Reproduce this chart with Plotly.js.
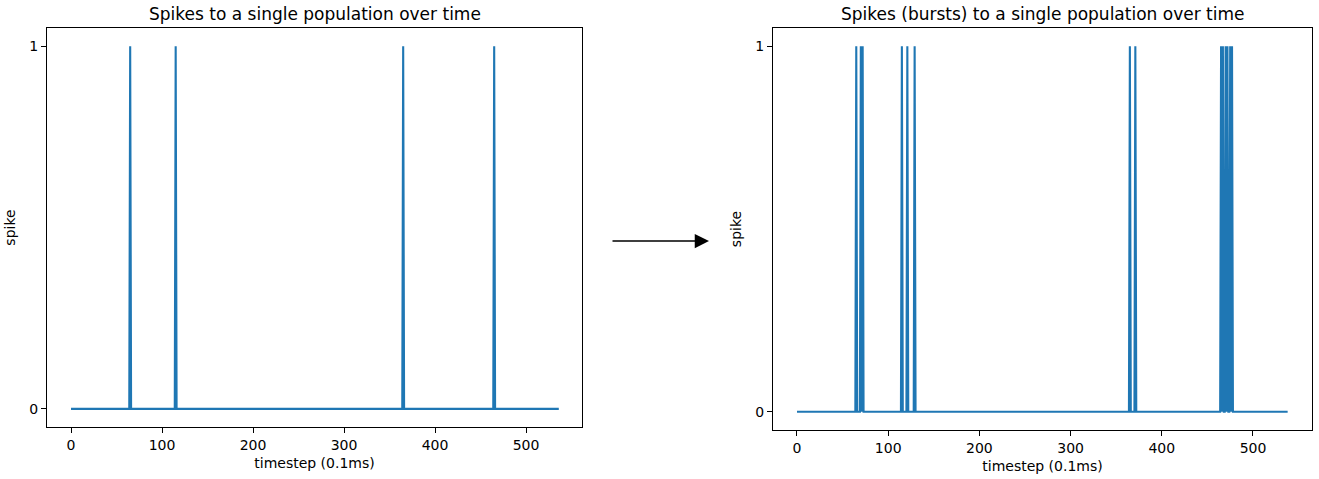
<!DOCTYPE html>
<html>
<head>
<meta charset="utf-8">
<script src="https://cdn.plot.ly/plotly-3.0.1.min.js"></script>
<style>html,body{margin:0;padding:0;background:#fff;}#chart{width:1319px;height:479px;}</style>
</head>
<body>
<div id="chart"></div>
<script>
// Data
const nStepsLeft = 537;              // timesteps 0..536
const nStepsRight = 539;             // timesteps 0..538
const spikeTimesLeft = [65, 115, 365, 465];
const spikeTimesRight = [65, 70, 72, 115, 121, 129, 365, 371, 465, 467, 470, 472, 475, 477];
const xTicks = [0, 100, 200, 300, 400, 500];
const yTicks = [0, 1];
const titleLeft = "Spikes to a single population over time";
const titleRight = "Spikes (bursts) to a single population over time";
const xLabel = "timestep (0.1ms)";
const yLabel = "spike";

function buildSeries(n, times) {
  const x = [], y = [];
  for (let t = 0; t < n; t++) { x.push(t); y.push(times.includes(t) ? 1 : 0); }
  return {x, y};
}
const L = buildSeries(nStepsLeft, spikeTimesLeft);
const R = buildSeries(nStepsRight, spikeTimesRight);

const W = 1319, H = 479;
const font = {family: "DejaVu Sans, sans-serif", size: 14, color: "#000"};
const lineColor = "#1f77b4";

function xAxis(domain, range) {
  return {
    domain: domain, range: range, tickvals: xTicks,
    ticks: "outside", ticklen: 5, tickcolor: "#000", tickwidth: 1,
    showline: true, mirror: true, linecolor: "#000", linewidth: 1,
    showgrid: false, zeroline: false, tickfont: font,
    title: {text: xLabel, font: font, standoff: 6}
  };
}
function yAxis(domain) {
  return {
    domain: domain, range: [-0.05, 1.05], tickvals: yTicks,
    ticks: "outside", ticklen: 5, tickcolor: "#000", tickwidth: 1,
    showline: true, mirror: true, linecolor: "#000", linewidth: 1,
    showgrid: false, zeroline: false, tickfont: font,
    title: {text: yLabel, font: font, standoff: 10}
  };
}

const data = [
  {x: L.x, y: L.y, type: "scatter", mode: "lines", line: {color: lineColor, width: 2.1}, xaxis: "x", yaxis: "y", hoverinfo: "skip"},
  {x: R.x, y: R.y, type: "scatter", mode: "lines", line: {color: lineColor, width: 2.1}, xaxis: "x2", yaxis: "y2", hoverinfo: "skip"}
];

const layout = {
  width: W, height: H, margin: {l: 0, r: 0, t: 0, b: 0},
  paper_bgcolor: "#fff", plot_bgcolor: "#fff", showlegend: false,
  font: font,
  xaxis: Object.assign(xAxis([47 / W, 582 / W], [-26.4, 561.5]), {anchor: "y"}),
  yaxis: Object.assign(yAxis([1 - 427 / H, 1 - 28 / H]), {anchor: "x"}),
  xaxis2: Object.assign(xAxis([773 / W, 1312 / W], [-26.3, 564.7]), {anchor: "y2"}),
  yaxis2: Object.assign(yAxis([1 - 430 / H, 1 - 28 / H]), {anchor: "x2"}),
  annotations: [
    {text: titleLeft, xref: "paper", yref: "paper", x: (47 + 582) / 2 / W, y: 1 - 14 / H, showarrow: false, font: {family: font.family, size: 17, color: "#000"}, xanchor: "center", yanchor: "middle"},
    {text: titleRight, xref: "paper", yref: "paper", x: (773 + 1312) / 2 / W, y: 1 - 14 / H, showarrow: false, font: {family: font.family, size: 17, color: "#000"}, xanchor: "center", yanchor: "middle"},
    {text: "", xref: "paper", yref: "paper", x: 709 / W, y: 1 - 241 / H, ax: -98, ay: 0, axref: "pixel", ayref: "pixel", showarrow: true, arrowhead: 2, arrowsize: 1.9, arrowwidth: 1.5, arrowcolor: "#000"}
  ]
};

Plotly.newPlot("chart", data, layout, {staticPlot: true, displayModeBar: false});
</script>
</body>
</html>
